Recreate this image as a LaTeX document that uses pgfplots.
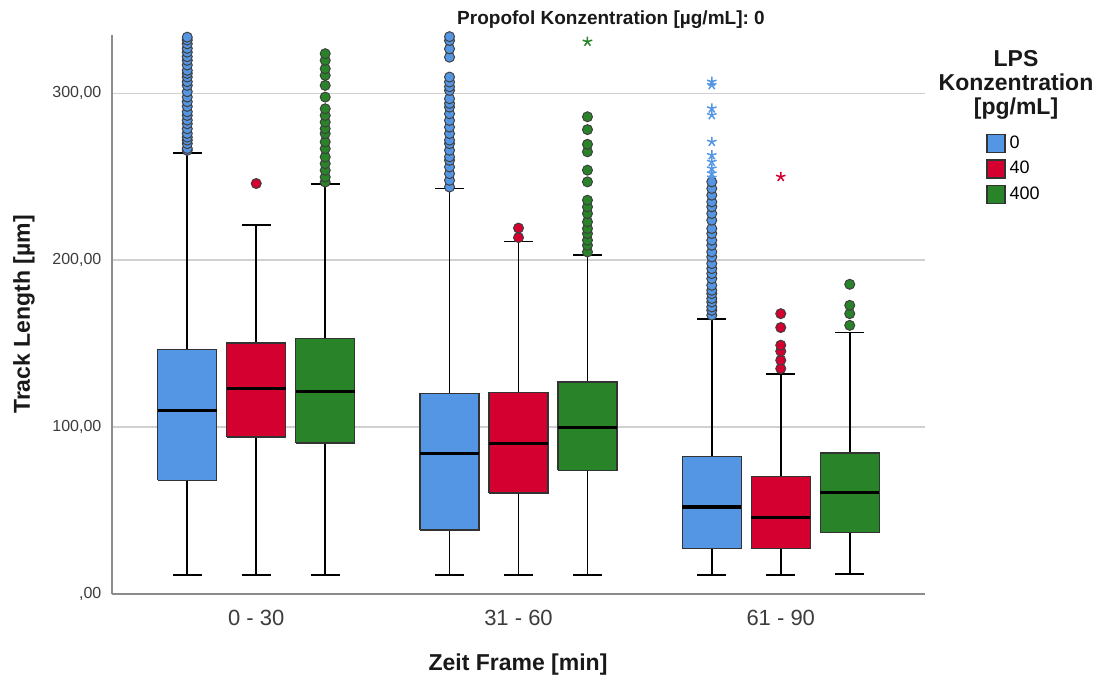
\documentclass[border=0pt]{standalone}
\usepackage{fontspec}
\setmainfont{Liberation Sans}
\usepackage{pgfplots}
\pgfplotsset{compat=1.18}
\definecolor{cblue}{RGB}{85,150,228}
\definecolor{cred}{RGB}{211,0,48}
\definecolor{cgreen}{RGB}{41,131,41}
\definecolor{gridgray}{RGB}{208,208,208}
\definecolor{axgray}{RGB}{140,140,140}
\definecolor{txtgray}{RGB}{60,60,60}
\pgfplotsset{
  boxst/.style={forget plot, fill=#1, draw=black!80, line width=0.7pt, line join=miter, mark=none},
  medst/.style={forget plot, draw=black, line width=1.6pt, mark=none},
  whst/.style={forget plot, draw=black, line width=0.9pt, mark=none, unbounded coords=jump},
  outl/.style={forget plot, only marks, mark=*, mark size=2.5pt,
    mark options={fill=#1, draw=black!75, line width=0.5pt}},
  extr/.style={forget plot, only marks, mark=star, mark size=2.5pt,
    mark options={draw=#1, line width=0.75pt}},
}
\begin{document}
\begin{tikzpicture}
\useasboundingbox (-56pt,-41.5pt) rectangle (493.5pt,297pt);
\begin{axis}[
  at={(0,0)}, anchor=south west,
  scale only axis, width=406.5pt, height=279.5pt,
  xmin=-0.55, xmax=2.55, ymin=0, ymax=335,
  axis lines*=left, axis line style={-, draw=axgray, line width=0.8pt},
  major tick length=0pt,
  xtick={0,1,2}, xticklabels={0 - 30, 31 - 60, 61 - 90},
  ytick={0,100,200,300}, yticklabels={{,00},{100,00},{200,00},{300,00}},
  xticklabel style={font=\fontsize{11}{13}\selectfont, text=txtgray, yshift=-4.5pt},
  yticklabel style={font=\fontsize{8}{10}\selectfont, text=txtgray, xshift=-1.8pt},
  ymajorgrids, grid style={gridgray, line width=0.9pt},
  legend style={at={(1.075,0.828)}, anchor=north west, draw=none, fill=none,
    font=\fontsize{9}{10}\selectfont, row sep=1pt, inner sep=0pt},
  legend cell align=left,
  legend image code/.code={\draw[#1] (0pt,-4.5pt) rectangle (9pt,4.5pt);},
]
\addlegendimage{fill=cblue, draw=black!80, line width=0.6pt}
\addlegendentry{0}
\addlegendimage{fill=cred, draw=black!80, line width=0.6pt}
\addlegendentry{40}
\addlegendimage{fill=cgreen, draw=black!80, line width=0.6pt}
\addlegendentry{400}

% ===== 0 - 30 =====
\addplot[whst] coordinates {(-0.263,146.7) (-0.263,264.5) (nan,nan) (-0.318,264.5) (-0.208,264.5) (nan,nan) (-0.263,68.1) (-0.263,11.6) (nan,nan) (-0.318,11.6) (-0.208,11.6)};
\addplot[boxst=cblue] coordinates {(-0.3755,68.1) (-0.1505,68.1) (-0.1505,146.7) (-0.3755,146.7) (-0.3755,68.1)};
\addplot[medst] coordinates {(-0.3755,109.8) (-0.1505,109.8)};
\addplot[whst] coordinates {(0,150.5) (0,221) (nan,nan) (-0.055,221) (0.055,221) (nan,nan) (0,94) (0,11.6) (nan,nan) (-0.055,11.6) (0.055,11.6)};
\addplot[boxst=cred] coordinates {(-0.1125,94) (0.1125,94) (0.1125,150.5) (-0.1125,150.5) (-0.1125,94)};
\addplot[medst] coordinates {(-0.1125,123) (0.1125,123)};
\addplot[whst] coordinates {(0.263,153) (0.263,245.7) (nan,nan) (0.208,245.7) (0.318,245.7) (nan,nan) (0.263,90.6) (0.263,11.6) (nan,nan) (0.208,11.6) (0.318,11.6)};
\addplot[boxst=cgreen] coordinates {(0.1505,90.6) (0.3755,90.6) (0.3755,153) (0.1505,153) (0.1505,90.6)};
\addplot[medst] coordinates {(0.1505,121.4) (0.3755,121.4)};

% ===== 31 - 60 =====
\addplot[whst] coordinates {(0.737,120.2) (0.737,243) (nan,nan) (0.682,243) (0.792,243) (nan,nan) (0.737,38.3) (0.737,11.6) (nan,nan) (0.682,11.6) (0.792,11.6)};
\addplot[boxst=cblue] coordinates {(0.6245,38.3) (0.8495,38.3) (0.8495,120.2) (0.6245,120.2) (0.6245,38.3)};
\addplot[medst] coordinates {(0.6245,84) (0.8495,84)};
\addplot[whst] coordinates {(1,120.8) (1,211.2) (nan,nan) (0.945,211.2) (1.055,211.2) (nan,nan) (1,60.5) (1,11.6) (nan,nan) (0.945,11.6) (1.055,11.6)};
\addplot[boxst=cred] coordinates {(0.8875,60.5) (1.1125,60.5) (1.1125,120.8) (0.8875,120.8) (0.8875,60.5)};
\addplot[medst] coordinates {(0.8875,90.4) (1.1125,90.4)};
\addplot[whst] coordinates {(1.263,127.1) (1.263,203.4) (nan,nan) (1.208,203.4) (1.318,203.4) (nan,nan) (1.263,74.1) (1.263,11.6) (nan,nan) (1.208,11.6) (1.318,11.6)};
\addplot[boxst=cgreen] coordinates {(1.1505,74.1) (1.3755,74.1) (1.3755,127.1) (1.1505,127.1) (1.1505,74.1)};
\addplot[medst] coordinates {(1.1505,99.8) (1.3755,99.8)};

% ===== 61 - 90 =====
\addplot[whst] coordinates {(1.737,82.4) (1.737,165) (nan,nan) (1.682,165) (1.792,165) (nan,nan) (1.737,27.1) (1.737,11.6) (nan,nan) (1.682,11.6) (1.792,11.6)};
\addplot[boxst=cblue] coordinates {(1.6245,27.1) (1.8495,27.1) (1.8495,82.4) (1.6245,82.4) (1.6245,27.1)};
\addplot[medst] coordinates {(1.6245,52.1) (1.8495,52.1)};
\addplot[whst] coordinates {(2,70.5) (2,131.9) (nan,nan) (1.945,131.9) (2.055,131.9) (nan,nan) (2,27.1) (2,11.6) (nan,nan) (1.945,11.6) (2.055,11.6)};
\addplot[boxst=cred] coordinates {(1.8875,27.1) (2.1125,27.1) (2.1125,70.5) (1.8875,70.5) (1.8875,27.1)};
\addplot[medst] coordinates {(1.8875,45.9) (2.1125,45.9)};
\addplot[whst] coordinates {(2.263,84.6) (2.263,156.7) (nan,nan) (2.208,156.7) (2.318,156.7) (nan,nan) (2.263,36.9) (2.263,12) (nan,nan) (2.208,12) (2.318,12)};
\addplot[boxst=cgreen] coordinates {(2.1505,36.9) (2.3755,36.9) (2.3755,84.6) (2.1505,84.6) (2.1505,36.9)};
\addplot[medst] coordinates {(2.1505,60.7) (2.3755,60.7)};

% ===== outliers =====
\addplot[outl=cblue] coordinates {
 (-0.263,265.9) (-0.263,267) (-0.263,269.9) (-0.263,272) (-0.263,273.8) (-0.263,276)
 (-0.263,278.8) (-0.263,281.8) (-0.263,284) (-0.263,286.8) (-0.263,289) (-0.263,292.2)
 (-0.263,295) (-0.263,297.8) (-0.263,301) (-0.263,304.8) (-0.263,307) (-0.263,309.8)
 (-0.263,312) (-0.263,313.8) (-0.263,317) (-0.263,319.8) (-0.263,322) (-0.263,324.7)
 (-0.263,327) (-0.263,329.7) (-0.263,332) (-0.263,333.7)};
\addplot[outl=cred] coordinates {(0,246)};
\addplot[outl=cgreen] coordinates {
 (0.263,246.9) (0.263,249.9) (0.263,253.9) (0.263,257.9) (0.263,261.9) (0.263,266.9)
 (0.263,270.9) (0.263,275.9) (0.263,278.9) (0.263,282.8) (0.263,286.8) (0.263,290.8)
 (0.263,297.8) (0.263,304.8) (0.263,310.8) (0.263,314.8) (0.263,319.8) (0.263,323.8)};
\addplot[outl=cblue] coordinates {
 (0.737,243.9) (0.737,247.9) (0.737,251.9) (0.737,255.9) (0.737,259.9) (0.737,262)
 (0.737,265.9) (0.737,269.9) (0.737,272) (0.737,275.9) (0.737,279.8) (0.737,283.8)
 (0.737,287.8) (0.737,291.8) (0.737,294) (0.737,296.8) (0.737,301.8) (0.737,304)
 (0.737,306.8) (0.737,309.8) (0.737,321.7) (0.737,326.7) (0.737,331.7) (0.737,334)};
\addplot[outl=cred] coordinates {(1,213.6) (1,219.3)};
\addplot[outl=cgreen] coordinates {
 (1.263,205) (1.263,209) (1.263,212) (1.263,216) (1.263,219) (1.263,223) (1.263,228)
 (1.263,232) (1.263,236) (1.263,247) (1.263,254) (1.263,265) (1.263,269.5)
 (1.263,278.3) (1.263,286)};
\addplot[extr=cgreen] coordinates {(1.263,331)};
\addplot[outl=cblue] coordinates {
 (1.737,167.1) (1.737,170) (1.737,172) (1.737,175) (1.737,177.1) (1.737,180)
 (1.737,182) (1.737,185) (1.737,189) (1.737,192) (1.737,195) (1.737,198) (1.737,202)
 (1.737,205) (1.737,209) (1.737,212) (1.737,216) (1.737,219) (1.737,224) (1.737,228)
 (1.737,232) (1.737,235) (1.737,239) (1.737,243) (1.737,247)};
\addplot[extr=cblue] coordinates {
 (1.737,249.5) (1.737,252) (1.737,255) (1.737,259) (1.737,263) (1.737,271)
 (1.737,287) (1.737,291) (1.737,305) (1.737,307)};
\addplot[outl=cred] coordinates {
 (2,135.1) (2,140.1) (2,145.5) (2,149.1) (2,159.7) (2,168)};
\addplot[extr=cred] coordinates {(2,250)};
\addplot[outl=cgreen] coordinates {
 (2.263,161) (2.263,168) (2.263,173) (2.263,185.6)};
\end{axis}
\node[font=\fontsize{9.5}{11}\selectfont\bfseries, text=black!90] at (249.5pt,287pt) {Propofol Konzentration [µg/mL]: 0};
\node[rotate=90, font=\fontsize{11.5}{13}\selectfont\bfseries, text=black!90] at (-44pt,139.75pt) {Track Length [µm]};
\node[font=\fontsize{11.5}{13}\selectfont\bfseries, text=black!90] at (203pt,-35.5pt) {Zeit Frame [min]};
\node[align=center, font=\fontsize{11.5}{12}\selectfont\bfseries, text=black!90] at (452pt,254.5pt) {LPS\\Konzentration\\{}[pg/mL]};
\end{tikzpicture}
\end{document}
